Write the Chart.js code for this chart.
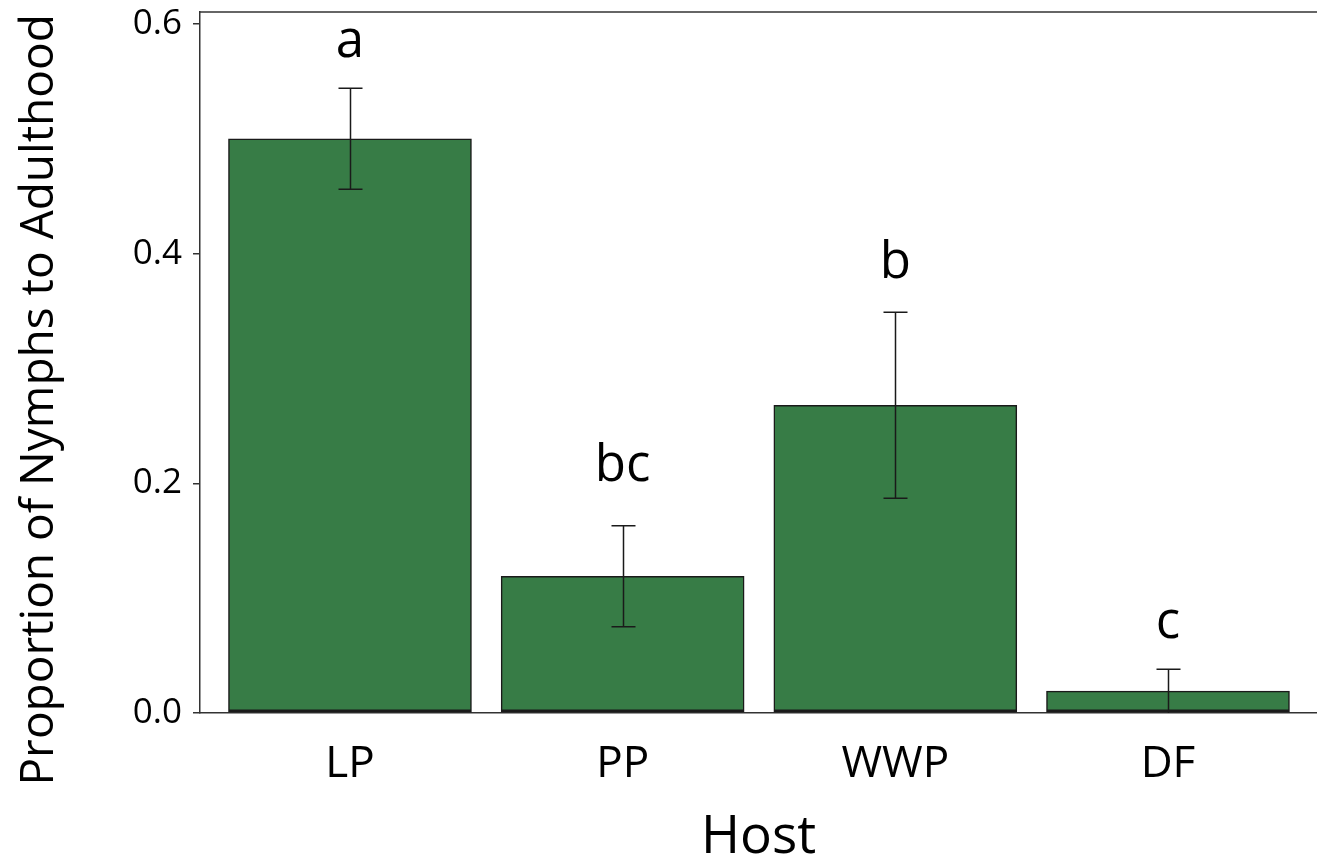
<!DOCTYPE html>
<html lang="en">
<head>
    <meta charset="UTF-8">
    <title>Nymph survival by host</title>
    <script src="https://cdn.jsdelivr.net/npm/chart.js@4.4.1/dist/chart.umd.min.js"></script>
    <style>
        html, body { margin: 0; padding: 0; background: #fff; }
    </style>
</head>
<body>
    <div style="width: 1317px; height: 860px;">
    <canvas id="hostChart" width="1317" height="860"></canvas>
    </div>

    <script>
        // values
        const hosts = ['LP', 'PP', 'WWP', 'DF'];
        const proportion = [0.500, 0.119, 0.268, 0.019];
        const stdErr = [0.044, 0.044, 0.081, 0.019];
        const groupLetters = ['a', 'bc', 'b', 'c'];
        const letterY = [0.571, 0.202, 0.379, 0.065];   // baseline of letter, in data units
        const yTicks = [0, 0.2, 0.4, 0.6];

        const FONT = '"Open Sans", "Noto Sans", sans-serif';
        const AXIS_COLOR = '#333333';
        const Y_TITLE = 'Proportion of Nymphs to Adulthood';

        // error bars, significance letters, y title and the top frame line
        const extrasPlugin = {
            id: 'extras',
            afterDatasetsDraw(chart) {
                const ctx = chart.ctx;
                const xs = chart.scales.x, ys = chart.scales.y;
                ctx.save();
                ctx.strokeStyle = '#1a1a1a';
                ctx.lineWidth = 1.5;
                proportion.forEach((v, i) => {
                    const cx = Math.round(xs.getPixelForValue(i + 1)) + 0.5;
                    const hi = ys.getPixelForValue(v + stdErr[i]);
                    const lo = ys.getPixelForValue(Math.max(0, v - stdErr[i]));
                    ctx.beginPath();
                    ctx.moveTo(cx, hi); ctx.lineTo(cx, lo);
                    ctx.moveTo(cx - 12, hi); ctx.lineTo(cx + 12, hi);
                    if (v - stdErr[i] > 0) {
                        ctx.moveTo(cx - 12, lo); ctx.lineTo(cx + 12, lo);
                    }
                    ctx.stroke();
                });
                ctx.fillStyle = '#000';
                ctx.font = '51px ' + FONT;
                ctx.textAlign = 'center';
                ctx.textBaseline = 'alphabetic';
                groupLetters.forEach((t, i) => {
                    ctx.fillText(t, xs.getPixelForValue(i + 1), ys.getPixelForValue(letterY[i]));
                });

                // y axis title, centred on the whole figure height like the original
                ctx.save();
                ctx.translate(40, chart.height * 0.465);
                ctx.rotate(-Math.PI / 2);
                ctx.font = '46px ' + FONT;
                ctx.textBaseline = 'middle';
                ctx.fillText(Y_TITLE, 0, 0);
                ctx.restore();

                const a = chart.chartArea;
                ctx.strokeStyle = AXIS_COLOR;
                ctx.beginPath();
                ctx.moveTo(a.left, a.top);
                ctx.lineTo(a.right, a.top);
                ctx.stroke();
                ctx.restore();
            }
        };

        const ctx = document.getElementById('hostChart').getContext('2d');
        new Chart(ctx, {
            type: 'bar',
            data: {
                datasets: [{
                    label: 'Proportion',
                    data: proportion.map((v, i) => ({ x: i + 1, y: v })),
                    backgroundColor: '#377c46',
                    borderColor: '#1a1a1a',
                    borderWidth: { top: 1.5, left: 1.5, right: 1.5, bottom: 3 },
                    borderSkipped: false,
                    barThickness: 243
                }]
            },
            options: {
                responsive: false,
                animation: false,
                layout: { padding: { top: 12, right: 0, left: 0, bottom: 0 } },
                plugins: {
                    legend: { display: false },
                    tooltip: { enabled: false }
                },
                scales: {
                    x: {
                        type: 'linear',
                        offset: false,
                        min: 0.45,
                        max: 4.5465,
                        grid: { display: false },
                        border: { display: true, color: AXIS_COLOR, width: 1.5 },
                        afterBuildTicks: (scale) => { scale.ticks = hosts.map((_, i) => ({ value: i + 1 })); },
                        afterFit: (scale) => {
                            scale.height = 147;
                            scale.paddingLeft = 0;
                            scale.paddingRight = 0;
                        },
                        ticks: {
                            color: '#000',
                            padding: 17,
                            maxRotation: 0,
                            autoSkip: false,
                            font: { family: FONT, size: 44 },
                            callback: (v) => hosts[v - 1]
                        },
                        title: {
                            display: true,
                            text: 'Host',
                            color: '#000',
                            padding: { top: 0, bottom: 0 },
                            font: { family: FONT, size: 53, lineHeight: 0.85 }
                        }
                    },
                    y: {
                        min: 0,
                        max: 0.6104,
                        grid: {
                            display: true,
                            drawOnChartArea: false,
                            drawTicks: true,
                            tickLength: 7,
                            color: AXIS_COLOR,
                            lineWidth: 1.5
                        },
                        border: { display: true, color: AXIS_COLOR, width: 1.5 },
                        afterBuildTicks: (scale) => { scale.ticks = yTicks.map(v => ({ value: v })); },
                        afterFit: (scale) => {
                            scale.width = 200;
                            scale.paddingTop = 0;
                            scale.paddingBottom = 0;
                        },
                        ticks: {
                            color: '#000',
                            padding: 11,
                            font: { family: FONT, size: 35 },
                            callback: (v) => v.toFixed(1)
                        }
                    }
                }
            },
            plugins: [extrasPlugin]
        });
    </script>

</body>
</html>
